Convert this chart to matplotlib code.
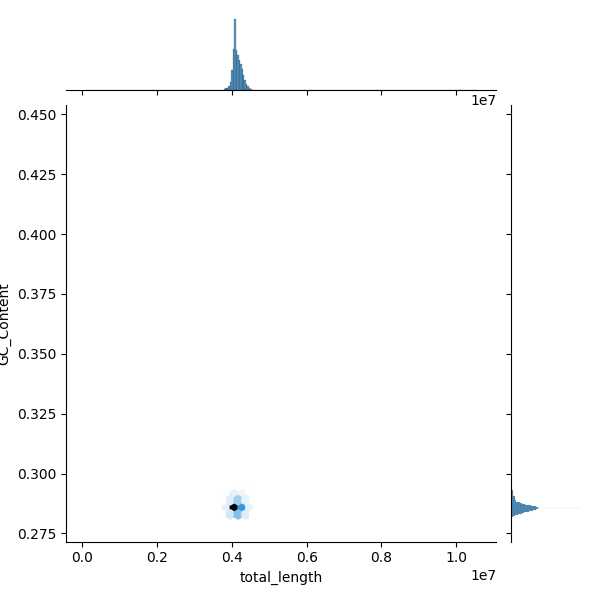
import numpy as np
import pandas as pd
import matplotlib
matplotlib.use("Agg")
import matplotlib.pyplot as plt
import seaborn as sns

# total_length: histogram (value, count)
length_values = [3.80e6, 3.84e6, 3.88e6, 3.92e6, 3.96e6, 4.00e6, 4.04e6, 4.08e6,
                 4.12e6, 4.16e6, 4.20e6, 4.24e6, 4.28e6, 4.32e6, 4.36e6, 4.40e6,
                 4.44e6, 4.48e6, 4.52e6]
length_counts = [3, 6, 6, 12, 24, 60, 120, 138, 117, 102, 90, 78, 63, 45, 30,
                 18, 12, 6, 3]

# GC_Content: histogram (value, count)
gc_values = [0.2820, 0.2822, 0.2824, 0.2826, 0.2828, 0.2830, 0.2832, 0.2834,
             0.2836, 0.2838, 0.2840, 0.2842, 0.2844, 0.2846, 0.2848, 0.2850,
             0.2852, 0.2854, 0.2856, 0.2858, 0.2860, 0.2862, 0.2864, 0.2866,
             0.2868, 0.2870, 0.2872, 0.2874, 0.2876, 0.2878, 0.2880, 0.2882,
             0.2884, 0.2886, 0.2888, 0.2890, 0.2892, 0.2894, 0.2896, 0.2898,
             0.2900, 0.2902, 0.2904, 0.2906, 0.2908, 0.2910, 0.2912, 0.2914,
             0.2916, 0.2918, 0.2920, 0.2922, 0.2924, 0.2926, 0.2928, 0.2930,
             0.2932]
gc_counts = [3, 3, 3, 6, 9, 12, 15, 18, 18, 21, 27, 30, 30, 36, 42, 42,
             42, 45, 45, 45, 45, 42, 39, 33, 30, 27, 24, 21, 18, 15, 15, 9,
             9, 9, 9, 9, 6, 6, 6, 6, 6, 6, 6, 6, 3, 3, 3, 3,
             3, 3, 3, 3, 3, 3, 3, 3, 3]

# identical genomes (the spike in both marginals)
dup_length, dup_gc, dup_n = 4.08e6, 0.2856, 72

# extreme assemblies that set the axis ranges
outlier_length = [1.03e5, 1.0528e7]
outlier_gc = [0.4455, 0.2800]

x_reg = np.repeat(length_values, length_counts)
y_reg = np.repeat(gc_values, gc_counts)
n = len(x_reg)
# pair the two sorted samples with a golden-ratio stride (no correlation)
order = (np.arange(n) * int(round(n * 0.618))) % n
y_reg = y_reg[order]

df = pd.DataFrame({
    "total_length": np.concatenate([x_reg, np.full(dup_n, dup_length), outlier_length]),
    "GC_Content": np.concatenate([y_reg, np.full(dup_n, dup_gc), outlier_gc]),
})

color = "C0"
color_rgb = matplotlib.colors.to_rgb(color)
cmap = sns.blend_palette(
    [sns.utils.set_hls_values(color_rgb, l=l) for l in np.linspace(1, 0, 12)],
    as_cmap=True,
)

g = sns.JointGrid(data=df, x="total_length", y="GC_Content", height=6)
g.plot_joint(plt.hexbin, gridsize=50, cmap=cmap)

xmin, xmax = df["total_length"].min(), df["total_length"].max()
xstep = 4e4
x_start = length_values[0] - xstep / 2
x_edges = np.arange(x_start - np.ceil((x_start - xmin) / xstep) * xstep,
                    xmax + xstep, xstep)
ymin, ymax = df["GC_Content"].min(), df["GC_Content"].max()
ystep = 0.0002
y_start = gc_values[0] - ystep / 2
y_edges = np.arange(y_start - np.ceil((y_start - ymin) / ystep) * ystep,
                    ymax + ystep, ystep)

sns.histplot(data=df, x="total_length", bins=x_edges, color=color, ax=g.ax_marg_x)
sns.histplot(data=df, y="GC_Content", bins=y_edges, color=color, ax=g.ax_marg_y)

g.figure.savefig("out.png", dpi=100)
